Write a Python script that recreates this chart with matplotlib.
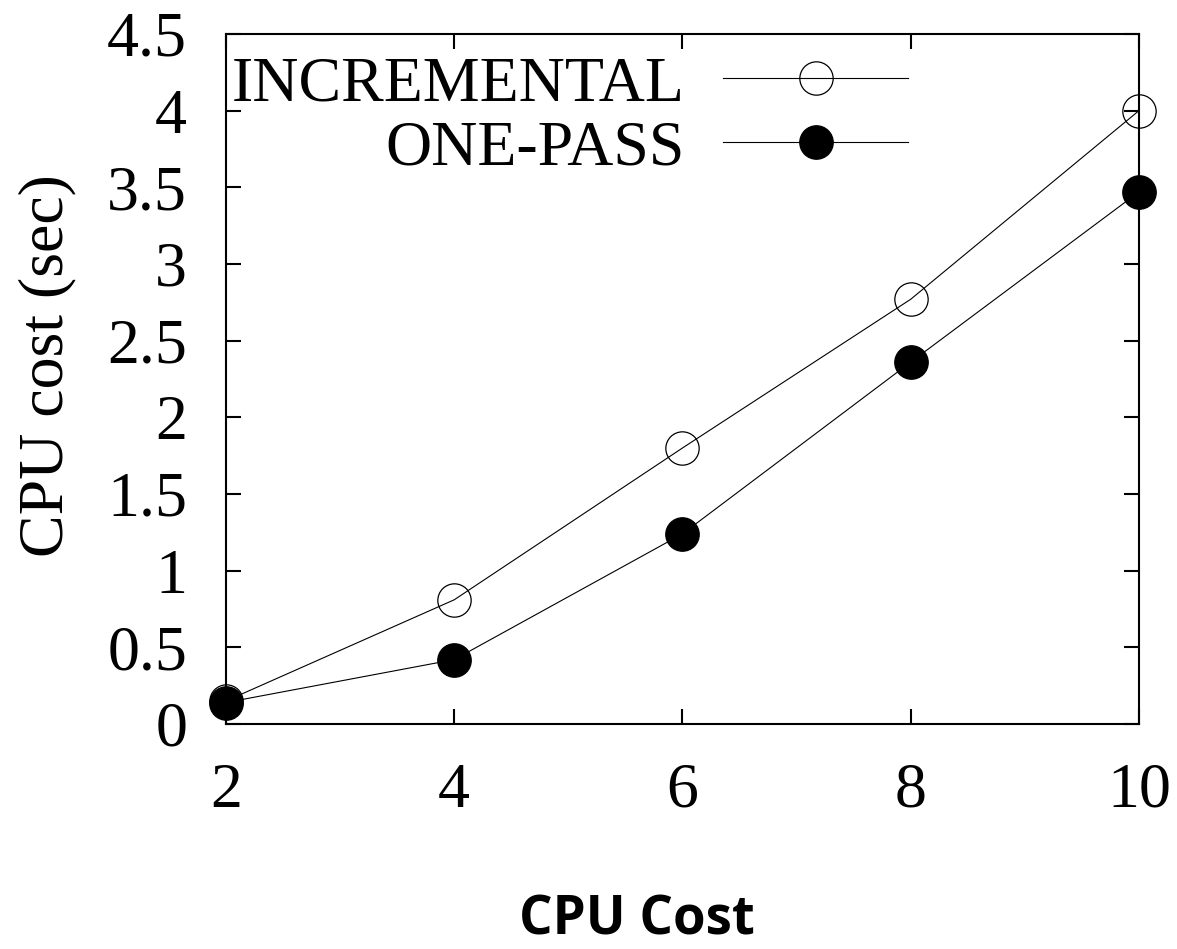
import matplotlib.pyplot as plt

# CPU cost vs CPU cost parameter
x_vals = [2, 4, 6, 8, 10]
incremental = [0.15, 0.81, 1.80, 2.77, 4.00]
one_pass = [0.14, 0.42, 1.24, 2.36, 3.47]

x_ticks = [2, 4, 6, 8, 10]
y_ticks = [0, 0.5, 1, 1.5, 2, 2.5, 3, 3.5, 4, 4.5]
y_tick_labels = ['0', '0.5', '1', '1.5', '2', '2.5', '3', '3.5', '4', '4.5']

serif = 'Liberation Serif'
fs = 46

fig = plt.figure(figsize=(11.77, 9.49), dpi=100)
ax = fig.add_axes([0.192, 0.2371, 0.7757, 0.7271])

ax.plot(x_vals, incremental, color='black', lw=0.8, marker='o', ms=24,
        mfc='none', mec='black', mew=0.9, label='INCREMENTAL', clip_on=False)
ax.plot(x_vals, one_pass, color='black', lw=0.8, marker='o', ms=24,
        mfc='black', mec='black', label='ONE-PASS', clip_on=False)

ax.set_xlim(2, 10)
ax.set_ylim(0, 4.5)
ax.set_xticks(x_ticks)
ax.set_xticklabels([str(v) for v in x_ticks])
ax.set_yticks(y_ticks)
ax.set_yticklabels(y_tick_labels)

ax.tick_params(direction='in', length=11, width=1.5, pad=28,
               top=True, right=True, labelsize=fs)
for lbl in ax.get_xticklabels() + ax.get_yticklabels():
    lbl.set_fontfamily(serif)
for sp in ax.spines.values():
    sp.set_linewidth(1.5)

ax.set_ylabel('CPU cost (sec)', fontsize=fs, family=serif, va='center')
ax.yaxis.set_label_coords(-0.196, 0.519)
ax.set_xlabel('CPU Cost', fontsize=38, family='Open Sans', fontweight='bold', va='center')
ax.xaxis.set_label_coords(0.450, -0.2855)

ax.legend(loc='center', bbox_to_anchor=(570 / 1177, 1 - 117 / 949),
          bbox_transform=fig.transFigure, frameon=False, markerfirst=False,
          numpoints=1, handlelength=2.9, handletextpad=0.6, labelspacing=0.08,
          borderpad=0, borderaxespad=0,
          prop={'family': serif, 'size': fs})

fig.savefig('out.png', dpi=100)
